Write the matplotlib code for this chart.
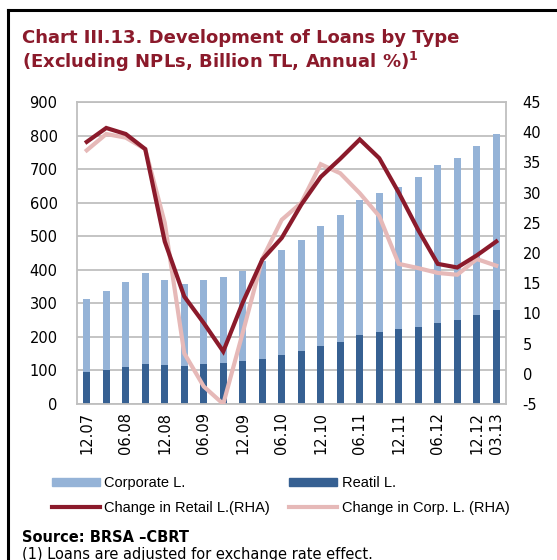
import matplotlib
matplotlib.use("Agg")
import matplotlib.pyplot as plt
from matplotlib.lines import Line2D
from matplotlib.patches import Patch
import numpy as np

# quarterly, 12.07 .. 03.13
quarters = ["12.07", "03.08", "06.08", "09.08", "12.08", "03.09", "06.09", "09.09",
            "12.09", "03.10", "06.10", "09.10", "12.10", "03.11", "06.11", "09.11",
            "12.11", "03.12", "06.12", "09.12", "12.12", "03.13"]
retail = [94, 101, 110, 118, 117, 114, 120, 123, 129, 134, 147, 158,
          172, 184, 206, 215, 223, 229, 242, 251, 266, 280]
corporate = [218, 236, 254, 271, 252, 243, 249, 256, 266, 291, 313, 330,
             359, 380, 403, 414, 423, 447, 471, 482, 502, 525]
retail_chg = [38.4, 40.7, 39.7, 37.2, 21.9, 12.8, 8.4, 3.7, 11.8, 18.9, 22.5, 28.0,
              32.6, 35.6, 38.8, 35.7, 30.0, 23.8, 18.2, 17.6, 19.6, 21.9]
corp_chg = [37.0, 39.7, 39.1, 37.2, 25.0, 3.4, -2.1, -5.0, 6.8, 19.0, 25.5, 28.3,
            34.7, 33.2, 29.9, 26.1, 18.2, 17.5, 16.7, 16.4, 19.0, 17.9]
shown_ticks = ["12.07", "06.08", "12.08", "06.09", "12.09", "06.10", "12.10",
               "06.11", "12.11", "06.12", "12.12", "03.13"]

c_corp = "#95B3D7"
c_ret = "#366092"
c_ret_line = "#8B1A2B"
c_corp_line = "#E6B9B8"
title_col = "#8B1A2B"
grid_col = "#BFBFBF"

plt.rcParams["font.family"] = "DejaVu Sans"
plt.rcParams["axes.unicode_minus"] = False

fig = plt.figure(figsize=(5.57, 5.60), dpi=100)

# frame round the chart box
fig.add_artist(Line2D([8 / 557, 8 / 557], [0, 1 - 10 / 560], color="black", lw=2.2,
                      transform=fig.transFigure))
fig.add_artist(Line2D([8 / 557, 1], [1 - 10 / 560, 1 - 10 / 560], color="black", lw=2.2,
                      transform=fig.transFigure))

fig.text(22 / 557, 1 - 38 / 560, "Chart III.13. Development of Loans by Type",
         color=title_col, fontsize=13, fontweight="bold", va="center", ha="left")
fig.text(22 / 557, 1 - 62 / 560, r"(Excluding NPLs, Billion TL, Annual %)$^{\mathbf{1}}$",
         color=title_col, fontsize=13, fontweight="bold", va="center", ha="left")

ax = fig.add_axes([77 / 557, 1 - 404 / 560, (506 - 77) / 557, (404 - 102) / 560])
x = np.arange(len(quarters))
w = 0.37
ax.bar(x, retail, w, color=c_ret, zorder=2)
ax.bar(x, corporate, w, bottom=retail, color=c_corp, zorder=2)
ax.set_xlim(-0.5, len(quarters) - 0.5)
ax.set_ylim(0, 900)
ax.set_yticks(range(0, 901, 100))
ax.grid(axis="y", color=grid_col, lw=1.3, zorder=0)
ax.set_axisbelow(True)
for s in ax.spines.values():
    s.set_color(grid_col)
    s.set_linewidth(1.3)

tick_pos = [quarters.index(q) for q in shown_ticks]
ax.set_xticks(tick_pos)
ax.set_xticklabels(shown_ticks, rotation=90, fontsize=10.5)
ax.tick_params(axis="both", length=0, labelsize=10.5, colors="black")
ax.tick_params(axis="x", pad=6)
ax.tick_params(axis="y", pad=14)

ax2 = ax.twinx()
ax2.plot(x, corp_chg, color=c_corp_line, lw=3.0, solid_joinstyle="miter", zorder=3)
ax2.plot(x, retail_chg, color=c_ret_line, lw=3.0, solid_joinstyle="miter", zorder=4)
ax2.set_ylim(-5, 45)
ax2.set_yticks(range(-5, 46, 5))
ax2.tick_params(axis="y", length=0, labelsize=10.5, pad=12)
for s in ax2.spines.values():
    s.set_visible(False)

# column-major fill: left column bars/retail line, right column retail bar/corp line
handles = [Patch(color=c_corp), Line2D([], [], color=c_ret_line, lw=3),
           Patch(color=c_ret), Line2D([], [], color=c_corp_line, lw=3)]
labels = ["Corporate L.", "Change in Retail L.(RHA)",
          "Reatil L.", "Change in Corp. L. (RHA)"]
fig.legend(handles, labels, ncol=2, loc="upper left",
           bbox_to_anchor=(52 / 557, 1 - 476 / 560), frameon=False,
           prop={"family": "Liberation Sans", "size": 10.5},
           handlelength=3.3, handleheight=0.45, handletextpad=0.3,
           columnspacing=1.3, labelspacing=0.75, borderpad=0, borderaxespad=0)

fig.text(22 / 557, 1 - 537 / 560, "Source: BRSA \u2013CBRT", fontsize=10.5,
         fontweight="bold", va="center", ha="left")
fig.text(22 / 557, 1 - 554 / 560, "(1) Loans are adjusted for exchange rate effect.",
         fontsize=10.5, va="center", ha="left")

fig.savefig("out.png", dpi=100)
